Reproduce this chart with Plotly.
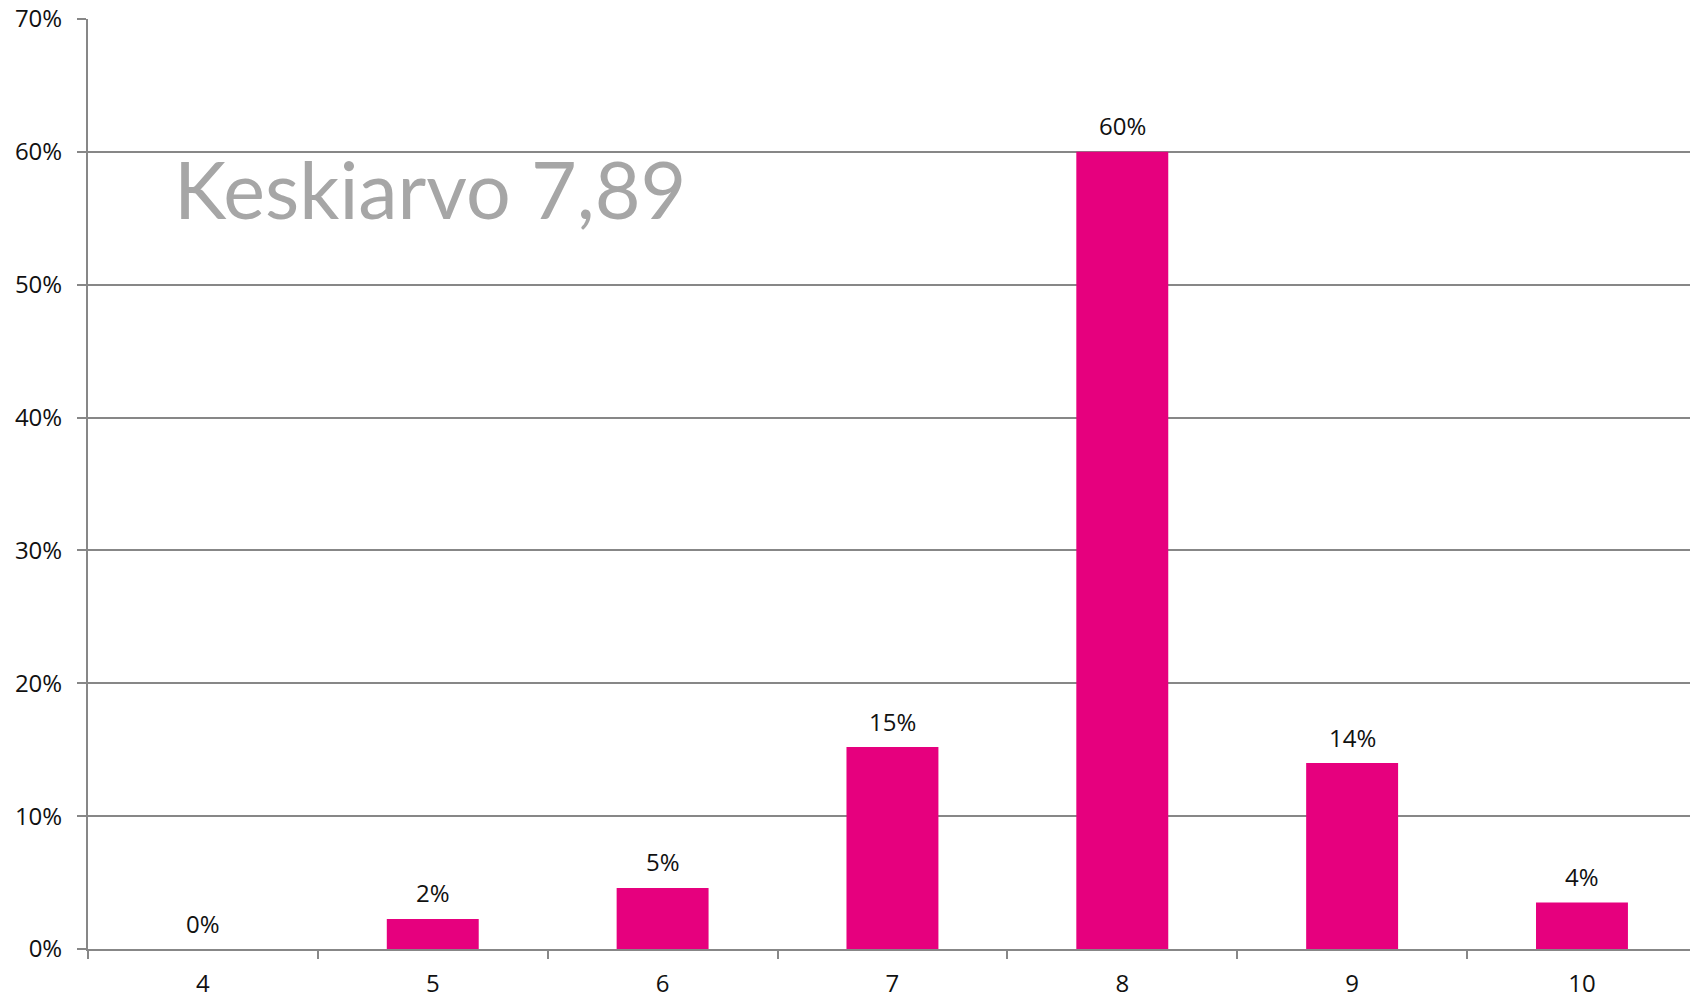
import plotly.graph_objects as go

categories = ["4", "5", "6", "7", "8", "9", "10"]
values = [0.0, 2.26, 4.6, 15.2, 60.0, 14.0, 3.5]
labels = ["0%", "2%", "5%", "15%", "60%", "14%", "4%"]
y_ticks = [0, 10, 20, 30, 40, 50, 60, 70]
y_tick_text = [f"{v}%" for v in y_ticks]
annotation_text = "Keskiarvo 7,89"

FONT = "Open Sans"
GRID = "#878787"
W, H = 1690, 998

fig = go.Figure(
    go.Bar(
        x=categories,
        y=values,
        marker=dict(color="#e6007e", line=dict(width=0)),
        hoverinfo="x+y",
    )
)

for i, (v, t) in enumerate(zip(values, labels)):
    fig.add_annotation(
        x=i, y=v, text=t, xref="x", yref="y",
        showarrow=False, yanchor="middle", yshift=26,
        font=dict(family=FONT, size=24, color="#111111"),
    )

fig.update_layout(
    width=W,
    height=H,
    paper_bgcolor="white",
    plot_bgcolor="white",
    margin=dict(l=88, r=0, t=19, b=49, autoexpand=False),
    bargap=0.6,
    showlegend=False,
    font=dict(family=FONT, size=24, color="#111111"),
)

fig.update_xaxes(
    type="category",
    range=[-0.5, 6.47],
    showline=True,
    linecolor=GRID,
    linewidth=2,
    ticks="outside",
    tickson="boundaries",
    ticklen=8,
    tickwidth=2,
    tickcolor=GRID,
    showgrid=False,
    automargin=False,
    ticklabelstandoff=12,
    tickfont=dict(family=FONT, size=24, color="#111111"),
)

fig.update_yaxes(
    range=[0, 70],
    tickvals=y_ticks,
    ticktext=y_tick_text,
    showline=True,
    linecolor=GRID,
    linewidth=2,
    ticks="outside",
    ticklen=9,
    tickwidth=2,
    tickcolor=GRID,
    showgrid=True,
    gridcolor=GRID,
    gridwidth=2,
    zeroline=False,
    automargin=False,
    ticklabelstandoff=10,
    tickfont=dict(family=FONT, size=24, color="#111111"),
)

fig.add_annotation(
    text=annotation_text,
    xref="paper",
    yref="paper",
    x=(172 - 88) / (1690 - 88),
    y=(949 - 189) / (949 - 19),
    xanchor="left",
    yanchor="middle",
    showarrow=False,
    font=dict(family="Lato", size=79, color="#a6a6a6"),
)

fig.write_html(
    "out.html",
    config={"displayModeBar": False},
    post_script="document.body.style.margin='0';document.body.style.overflow='hidden';",
)
